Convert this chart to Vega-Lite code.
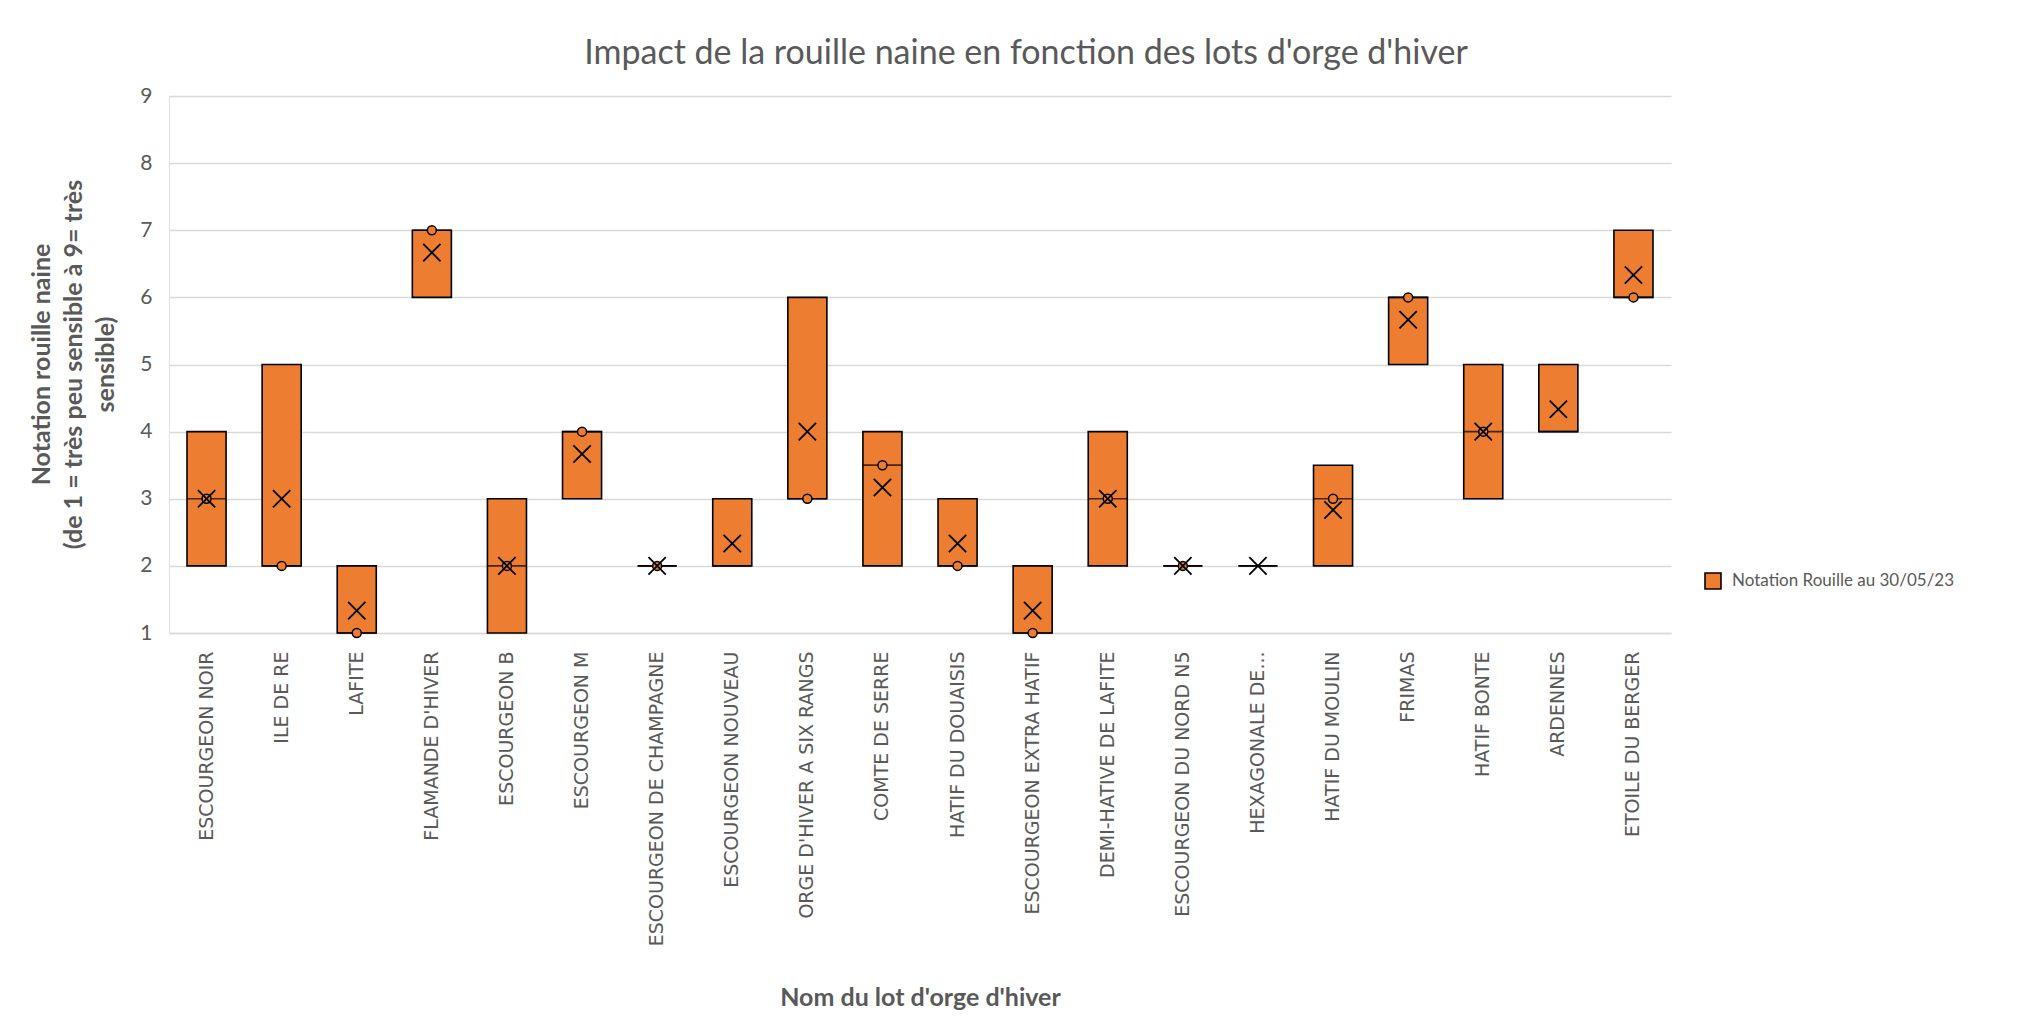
{
  "$schema": "https://vega.github.io/schema/vega-lite/v6.json",
  "width": 1502,
  "height": 537,
  "autosize": {"type": "none"},
  "padding": {"left": 169, "top": 96, "right": 364, "bottom": 386},
  "background": "white",
  "config": {"view": {"stroke": null}, "font": "Lato"},
  "title": {
    "text": "Impact de la rouille naine en fonction des lots d'orge d'hiver",
    "font": "Lato",
    "fontSize": 34,
    "fontWeight": "normal",
    "color": "#595959",
    "anchor": "middle",
    "frame": "group",
    "dx": 106,
    "offset": 14
  },
  "datasets": {
    "boxes": [
      {"lot": "ESCOURGEON NOIR", "q1": 2, "q3": 4, "median": 3, "mean": 3, "serie": "Notation Rouille au 30/05/23"},
      {"lot": "ILE DE RE", "q1": 2, "q3": 5, "median": 2, "mean": 3, "serie": "Notation Rouille au 30/05/23"},
      {"lot": "LAFITE", "q1": 1, "q3": 2, "median": 1, "mean": 1.333, "serie": "Notation Rouille au 30/05/23"},
      {"lot": "FLAMANDE D'HIVER", "q1": 6, "q3": 7, "median": 7, "mean": 6.667, "serie": "Notation Rouille au 30/05/23"},
      {"lot": "ESCOURGEON B", "q1": 1, "q3": 3, "median": 2, "mean": 2, "serie": "Notation Rouille au 30/05/23"},
      {"lot": "ESCOURGEON M", "q1": 3, "q3": 4, "median": 4, "mean": 3.667, "serie": "Notation Rouille au 30/05/23"},
      {"lot": "ESCOURGEON DE CHAMPAGNE", "q1": 2, "q3": 2, "median": 2, "mean": 2, "serie": "Notation Rouille au 30/05/23"},
      {"lot": "ESCOURGEON NOUVEAU", "q1": 2, "q3": 3, "median": 2, "mean": 2.333, "serie": "Notation Rouille au 30/05/23"},
      {"lot": "ORGE D'HIVER A SIX RANGS", "q1": 3, "q3": 6, "median": 3, "mean": 4, "serie": "Notation Rouille au 30/05/23"},
      {"lot": "COMTE DE SERRE", "q1": 2, "q3": 4, "median": 3.5, "mean": 3.167, "serie": "Notation Rouille au 30/05/23"},
      {"lot": "HATIF DU DOUAISIS", "q1": 2, "q3": 3, "median": 2, "mean": 2.333, "serie": "Notation Rouille au 30/05/23"},
      {"lot": "ESCOURGEON EXTRA HATIF", "q1": 1, "q3": 2, "median": 1, "mean": 1.333, "serie": "Notation Rouille au 30/05/23"},
      {"lot": "DEMI-HATIVE DE LAFITE", "q1": 2, "q3": 4, "median": 3, "mean": 3, "serie": "Notation Rouille au 30/05/23"},
      {"lot": "ESCOURGEON DU NORD N5", "q1": 2, "q3": 2, "median": 2, "mean": 2, "serie": "Notation Rouille au 30/05/23"},
      {"lot": "HEXAGONALE DE...", "q1": 2, "q3": 2, "median": 2, "mean": 2, "serie": "Notation Rouille au 30/05/23"},
      {"lot": "HATIF DU MOULIN", "q1": 2, "q3": 3.5, "median": 3, "mean": 2.833, "serie": "Notation Rouille au 30/05/23"},
      {"lot": "FRIMAS", "q1": 5, "q3": 6, "median": 6, "mean": 5.667, "serie": "Notation Rouille au 30/05/23"},
      {"lot": "HATIF BONTE", "q1": 3, "q3": 5, "median": 4, "mean": 4, "serie": "Notation Rouille au 30/05/23"},
      {"lot": "ARDENNES", "q1": 4, "q3": 5, "median": 4, "mean": 4.333, "serie": "Notation Rouille au 30/05/23"},
      {"lot": "ETOILE DU BERGER", "q1": 6, "q3": 7, "median": 6, "mean": 6.333, "serie": "Notation Rouille au 30/05/23"}
    ],
    "points": [
      {"lot": "ESCOURGEON NOIR", "value": 3},
      {"lot": "ILE DE RE", "value": 2},
      {"lot": "LAFITE", "value": 1},
      {"lot": "FLAMANDE D'HIVER", "value": 7},
      {"lot": "ESCOURGEON B", "value": 2},
      {"lot": "ESCOURGEON M", "value": 4},
      {"lot": "ESCOURGEON DE CHAMPAGNE", "value": 2},
      {"lot": "ORGE D'HIVER A SIX RANGS", "value": 3},
      {"lot": "COMTE DE SERRE", "value": 3.5},
      {"lot": "HATIF DU DOUAISIS", "value": 2},
      {"lot": "ESCOURGEON EXTRA HATIF", "value": 1},
      {"lot": "DEMI-HATIVE DE LAFITE", "value": 3},
      {"lot": "ESCOURGEON DU NORD N5", "value": 2},
      {"lot": "HATIF DU MOULIN", "value": 3},
      {"lot": "FRIMAS", "value": 6},
      {"lot": "HATIF BONTE", "value": 4},
      {"lot": "ETOILE DU BERGER", "value": 6}
    ]
  },
  "encoding": {
    "x": {
      "field": "lot",
      "type": "nominal",
      "sort": null,
      "scale": {
        "domain": ["ESCOURGEON NOIR", "ILE DE RE", "LAFITE", "FLAMANDE D'HIVER", "ESCOURGEON B", "ESCOURGEON M", "ESCOURGEON DE CHAMPAGNE", "ESCOURGEON NOUVEAU", "ORGE D'HIVER A SIX RANGS", "COMTE DE SERRE", "HATIF DU DOUAISIS", "ESCOURGEON EXTRA HATIF", "DEMI-HATIVE DE LAFITE", "ESCOURGEON DU NORD N5", "HEXAGONALE DE...", "HATIF DU MOULIN", "FRIMAS", "HATIF BONTE", "ARDENNES", "ETOILE DU BERGER"],
        "paddingInner": 0,
        "paddingOuter": 0
      },
      "axis": {
        "title": "Nom du lot d'orge d'hiver",
        "titleFont": "Lato",
        "titleFontSize": 25,
        "titleFontWeight": "bold",
        "titleColor": "#595959",
        "titleY": 364,
        "titleBaseline": "middle",
        "labelAngle": -90,
        "labelAlign": "right",
        "labelBaseline": "middle",
        "labelFont": "DejaVu Sans",
        "labelFontSize": 19,
        "labelColor": "#595959",
        "labelPadding": 18,
        "labelLimit": 0,
        "ticks": false,
        "tickSize": 0,
        "domainColor": "#d9d9d9",
        "domainWidth": 1.5
      }
    }
  },
  "layer": [
    {
      "data": {"name": "boxes"},
      "mark": {"type": "bar", "stroke": "black", "strokeWidth": 1.6, "width": {"band": 0.52}},
      "encoding": {
        "y": {
          "field": "q1",
          "type": "quantitative",
          "scale": {"domain": [1, 9], "nice": false, "zero": false},
          "axis": {
            "values": [1, 2, 3, 4, 5, 6, 7, 8, 9],
            "format": "d",
            "title": ["Notation rouille naine", "(de 1 = très peu sensible à 9= très", "sensible)"],
            "titleFont": "Lato",
            "titleFontSize": 25,
            "titleFontWeight": "bold",
            "titleColor": "#595959",
            "titleLineHeight": 32,
            "titleAngle": -90,
            "titleAlign": "center",
            "titleBaseline": "middle",
            "titleX": -128,
            "titleY": 268,
            "labelFont": "Lato",
            "labelFontSize": 21,
            "labelColor": "#595959",
            "labelPadding": 17,
            "ticks": false,
            "tickSize": 0,
            "grid": true,
            "gridColor": "#d9d9d9",
            "gridWidth": 1.4,
            "domain": true,
            "domainColor": "#e3e3e3",
            "domainWidth": 1.2
          }
        },
        "y2": {"field": "q3"},
        "fill": {
          "field": "serie",
          "type": "nominal",
          "scale": {"range": ["#ED7D31"]},
          "legend": {
            "title": null,
            "orient": "none",
            "legendX": 1535,
            "legendY": 476,
            "padding": 0,
            "symbolType": "square",
            "symbolSize": 256,
            "symbolStrokeColor": "black",
            "symbolStrokeWidth": 1.6,
            "symbolFillColor": "#ED7D31",
            "labelFont": "Lato",
            "labelFontSize": 17,
            "labelColor": "#595959",
            "labelOffset": 10,
            "labelLimit": 0
          }
        }
      }
    },
    {
      "data": {"name": "boxes"},
      "mark": {"type": "tick", "color": "black", "thickness": 1.7, "size": 39},
      "encoding": {
        "y": {"field": "median", "type": "quantitative"}
      }
    },
    {
      "data": {"name": "points"},
      "mark": {"type": "point", "shape": "circle", "filled": true, "fill": "#ED7D31", "stroke": "black", "strokeWidth": 1.5, "size": 81, "opacity": 1},
      "encoding": {
        "y": {"field": "value", "type": "quantitative"}
      }
    },
    {
      "data": {"name": "boxes"},
      "mark": {"type": "point", "shape": "M-1,-1L1,1M-1,1L1,-1", "filled": false, "color": "black", "strokeWidth": 1.8, "size": 300, "opacity": 1},
      "encoding": {
        "y": {"field": "mean", "type": "quantitative"}
      }
    }
  ]
}
